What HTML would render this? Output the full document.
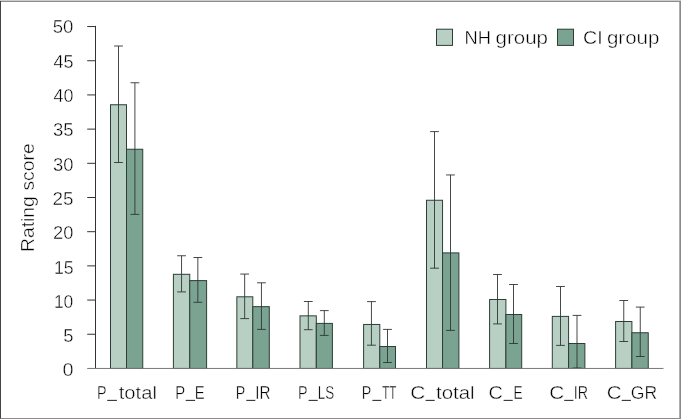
<!DOCTYPE html>
<html><head><meta charset="utf-8"><title>Rating score chart</title>
<style>
html,body{margin:0;padding:0;background:#fff;}
body{width:681px;height:419px;overflow:hidden;position:relative;font-family:"Liberation Sans",sans-serif;}
svg{opacity:0.999;will-change:transform;}
.t{font-family:"Liberation Sans",sans-serif;font-size:17.5px;fill:#000;stroke:#fff;stroke-width:0.4px;paint-order:fill stroke;}
</style></head><body>
<svg width="681" height="419" viewBox="0 0 681 419" style="position:absolute;left:0;top:0">
<rect x="0" y="0" width="681" height="419" fill="#fff"/>
<rect x="110.50" y="104.75" width="16.00" height="263.70" fill="#b8cfc3" stroke="#2e3d36" stroke-width="1"/>
<rect x="126.50" y="149.25" width="16.25" height="219.20" fill="#7aa391" stroke="#2e3d36" stroke-width="1"/>
<rect x="173.40" y="274.30" width="16.35" height="94.15" fill="#b8cfc3" stroke="#2e3d36" stroke-width="1"/>
<rect x="189.75" y="280.60" width="16.85" height="87.85" fill="#7aa391" stroke="#2e3d36" stroke-width="1"/>
<rect x="236.85" y="296.80" width="15.95" height="71.65" fill="#b8cfc3" stroke="#2e3d36" stroke-width="1"/>
<rect x="252.80" y="306.65" width="16.50" height="61.80" fill="#7aa391" stroke="#2e3d36" stroke-width="1"/>
<rect x="300.00" y="315.85" width="16.30" height="52.60" fill="#b8cfc3" stroke="#2e3d36" stroke-width="1"/>
<rect x="316.30" y="323.40" width="16.10" height="45.05" fill="#7aa391" stroke="#2e3d36" stroke-width="1"/>
<rect x="363.60" y="324.45" width="16.20" height="44.00" fill="#b8cfc3" stroke="#2e3d36" stroke-width="1"/>
<rect x="379.80" y="346.50" width="15.70" height="21.95" fill="#7aa391" stroke="#2e3d36" stroke-width="1"/>
<rect x="426.50" y="200.25" width="16.05" height="168.20" fill="#b8cfc3" stroke="#2e3d36" stroke-width="1"/>
<rect x="442.55" y="252.90" width="16.35" height="115.55" fill="#7aa391" stroke="#2e3d36" stroke-width="1"/>
<rect x="489.60" y="299.50" width="16.30" height="68.95" fill="#b8cfc3" stroke="#2e3d36" stroke-width="1"/>
<rect x="505.90" y="314.50" width="15.80" height="53.95" fill="#7aa391" stroke="#2e3d36" stroke-width="1"/>
<rect x="552.30" y="316.40" width="16.28" height="52.05" fill="#b8cfc3" stroke="#2e3d36" stroke-width="1"/>
<rect x="568.58" y="343.50" width="16.30" height="24.95" fill="#7aa391" stroke="#2e3d36" stroke-width="1"/>
<rect x="615.60" y="321.50" width="16.30" height="46.95" fill="#b8cfc3" stroke="#2e3d36" stroke-width="1"/>
<rect x="631.90" y="332.75" width="16.35" height="35.70" fill="#7aa391" stroke="#2e3d36" stroke-width="1"/>
<path d="M118.50 46.00V162.50M114.10 46.00H122.90M114.10 162.50H122.90" stroke="#2f3634" stroke-width="0.9" fill="none"/>
<path d="M134.90 82.75V214.40M130.50 82.75H139.30M130.50 214.40H139.30" stroke="#2f3634" stroke-width="0.9" fill="none"/>
<path d="M181.55 255.75V291.90M177.15 255.75H185.95M177.15 291.90H185.95" stroke="#2f3634" stroke-width="0.9" fill="none"/>
<path d="M197.85 257.50V302.30M193.45 257.50H202.25M193.45 302.30H202.25" stroke="#2f3634" stroke-width="0.9" fill="none"/>
<path d="M244.65 274.05V318.60M240.25 274.05H249.05M240.25 318.60H249.05" stroke="#2f3634" stroke-width="0.9" fill="none"/>
<path d="M261.45 282.80V329.40M257.05 282.80H265.85M257.05 329.40H265.85" stroke="#2f3634" stroke-width="0.9" fill="none"/>
<path d="M308.30 301.50V329.70M303.90 301.50H312.70M303.90 329.70H312.70" stroke="#2f3634" stroke-width="0.9" fill="none"/>
<path d="M324.30 310.60V335.40M319.90 310.60H328.70M319.90 335.40H328.70" stroke="#2f3634" stroke-width="0.9" fill="none"/>
<path d="M371.45 301.60V345.20M367.05 301.60H375.85M367.05 345.20H375.85" stroke="#2f3634" stroke-width="0.9" fill="none"/>
<path d="M387.50 329.40V362.50M383.10 329.40H391.90M383.10 362.50H391.90" stroke="#2f3634" stroke-width="0.9" fill="none"/>
<path d="M434.50 131.60V268.20M430.10 131.60H438.90M430.10 268.20H438.90" stroke="#2f3634" stroke-width="0.9" fill="none"/>
<path d="M450.50 174.95V330.40M446.10 174.95H454.90M446.10 330.40H454.90" stroke="#2f3634" stroke-width="0.9" fill="none"/>
<path d="M497.50 274.50V323.90M493.10 274.50H501.90M493.10 323.90H501.90" stroke="#2f3634" stroke-width="0.9" fill="none"/>
<path d="M513.50 284.50V343.50M509.10 284.50H517.90M509.10 343.50H517.90" stroke="#2f3634" stroke-width="0.9" fill="none"/>
<path d="M560.50 286.50V345.40M556.10 286.50H564.90M556.10 345.40H564.90" stroke="#2f3634" stroke-width="0.9" fill="none"/>
<path d="M577.00 315.40V368.00M572.60 315.40H581.40M572.60 368.00H581.40" stroke="#2f3634" stroke-width="0.9" fill="none"/>
<path d="M623.75 300.50V341.50M619.35 300.50H628.15M619.35 341.50H628.15" stroke="#2f3634" stroke-width="0.9" fill="none"/>
<path d="M640.25 307.10V356.50M635.85 307.10H644.65M635.85 356.50H644.65" stroke="#2f3634" stroke-width="0.9" fill="none"/>
<path d="M95.5 25.9V368.45" stroke="#333" stroke-width="1" fill="none"/>
<path d="M87.2 368.45H663.5" stroke="#777" stroke-width="1" fill="none"/>
<text x="62.51" y="376" textLength="11.08" lengthAdjust="spacingAndGlyphs" class="t">0</text>
<path d="M87.2 334.26H95.5" stroke="#333" stroke-width="1" fill="none"/>
<text x="63.30" y="342" textLength="10.26" lengthAdjust="spacingAndGlyphs" class="t">5</text>
<path d="M87.2 300.07H95.5" stroke="#333" stroke-width="1" fill="none"/>
<text x="53.91" y="308" textLength="19.44" lengthAdjust="spacingAndGlyphs" class="t">10</text>
<path d="M87.2 265.88H95.5" stroke="#333" stroke-width="1" fill="none"/>
<text x="53.90" y="274" textLength="19.69" lengthAdjust="spacingAndGlyphs" class="t">15</text>
<path d="M87.2 231.69H95.5" stroke="#333" stroke-width="1" fill="none"/>
<text x="53.09" y="239" textLength="20.34" lengthAdjust="spacingAndGlyphs" class="t">20</text>
<path d="M87.2 197.50H95.5" stroke="#333" stroke-width="1" fill="none"/>
<text x="52.60" y="205" textLength="20.98" lengthAdjust="spacingAndGlyphs" class="t">25</text>
<path d="M87.2 163.31H95.5" stroke="#333" stroke-width="1" fill="none"/>
<text x="52.95" y="171" textLength="20.52" lengthAdjust="spacingAndGlyphs" class="t">30</text>
<path d="M87.2 129.12H95.5" stroke="#333" stroke-width="1" fill="none"/>
<text x="52.95" y="136" textLength="20.59" lengthAdjust="spacingAndGlyphs" class="t">35</text>
<path d="M87.2 94.93H95.5" stroke="#333" stroke-width="1" fill="none"/>
<text x="53.56" y="102" textLength="19.99" lengthAdjust="spacingAndGlyphs" class="t">40</text>
<path d="M87.2 60.74H95.5" stroke="#333" stroke-width="1" fill="none"/>
<text x="53.55" y="68" textLength="20.06" lengthAdjust="spacingAndGlyphs" class="t">45</text>
<path d="M87.2 26.55H95.5" stroke="#333" stroke-width="1" fill="none"/>
<text x="52.73" y="33" textLength="20.68" lengthAdjust="spacingAndGlyphs" class="t">50</text>
<text x="96.89" y="399.2" textLength="9.50" lengthAdjust="spacingAndGlyphs" class="t">P</text>
<text x="118.67" y="399.2" textLength="38.24" lengthAdjust="spacingAndGlyphs" class="t">total</text>
<text x="175.33" y="399.2" textLength="9.93" lengthAdjust="spacingAndGlyphs" class="t">P</text>
<text x="194.73" y="399.2" textLength="9.92" lengthAdjust="spacingAndGlyphs" class="t">E</text>
<text x="235.76" y="399.2" textLength="9.48" lengthAdjust="spacingAndGlyphs" class="t">P</text>
<text x="255.19" y="399.2" textLength="15.19" lengthAdjust="spacingAndGlyphs" class="t">IR</text>
<text x="297.89" y="399.2" textLength="9.50" lengthAdjust="spacingAndGlyphs" class="t">P</text>
<text x="317.81" y="399.2" textLength="16.43" lengthAdjust="spacingAndGlyphs" class="t">LS</text>
<text x="361.87" y="399.2" textLength="9.48" lengthAdjust="spacingAndGlyphs" class="t">P</text>
<text x="382.16" y="399.2" textLength="14.15" lengthAdjust="spacingAndGlyphs" class="t">TT</text>
<text x="410.38" y="399.2" textLength="15.08" lengthAdjust="spacingAndGlyphs" class="t">C</text>
<text x="435.96" y="399.2" textLength="38.69" lengthAdjust="spacingAndGlyphs" class="t">total</text>
<text x="488.56" y="399.2" textLength="14.36" lengthAdjust="spacingAndGlyphs" class="t">C</text>
<text x="513.44" y="399.2" textLength="9.18" lengthAdjust="spacingAndGlyphs" class="t">E</text>
<text x="549.15" y="399.2" textLength="15.01" lengthAdjust="spacingAndGlyphs" class="t">C</text>
<text x="573.73" y="399.2" textLength="14.26" lengthAdjust="spacingAndGlyphs" class="t">IR</text>
<text x="606.78" y="399.2" textLength="14.81" lengthAdjust="spacingAndGlyphs" class="t">C</text>
<text x="630.89" y="399.2" textLength="26.38" lengthAdjust="spacingAndGlyphs" class="t">GR</text>
<path d="M107.20 400.4H116.90" stroke="#333" stroke-width="1.1" fill="none"/>
<path d="M185.70 400.4H195.10" stroke="#333" stroke-width="1.1" fill="none"/>
<path d="M246.30 400.4H255.30" stroke="#333" stroke-width="1.1" fill="none"/>
<path d="M308.60 400.4H317.70" stroke="#333" stroke-width="1.1" fill="none"/>
<path d="M372.40 400.4H381.30" stroke="#333" stroke-width="1.1" fill="none"/>
<path d="M425.60 400.4H434.70" stroke="#333" stroke-width="1.1" fill="none"/>
<path d="M503.60 400.4H512.70" stroke="#333" stroke-width="1.1" fill="none"/>
<path d="M564.20 400.4H573.40" stroke="#333" stroke-width="1.1" fill="none"/>
<path d="M621.70 400.4H630.90" stroke="#333" stroke-width="1.1" fill="none"/>
<text transform="translate(34.2 251.97) rotate(-90)" x="0" y="0" textLength="55.72" lengthAdjust="spacingAndGlyphs" class="t">Rating</text>
<text transform="translate(34.2 190.60) rotate(-90)" x="0" y="0" textLength="47.41" lengthAdjust="spacingAndGlyphs" class="t">score</text>
<rect x="436.5" y="29.2" width="16" height="16.2" fill="#b8cfc3" stroke="#2e3d36" stroke-width="1"/>
<rect x="557.5" y="29.2" width="16" height="16.2" fill="#7aa391" stroke="#2e3d36" stroke-width="1"/>
<text x="464.46" y="43.9" textLength="26.38" lengthAdjust="spacingAndGlyphs" class="t">NH</text>
<text x="495.58" y="43.9" textLength="52.43" lengthAdjust="spacingAndGlyphs" class="t">group</text>
<text x="583.08" y="43.9" textLength="19.60" lengthAdjust="spacingAndGlyphs" class="t">CI</text>
<text x="606.92" y="43.9" textLength="52.43" lengthAdjust="spacingAndGlyphs" class="t">group</text>
<g shape-rendering="crispEdges">
<rect x="0" y="0" width="681" height="1" fill="#cdcdcd"/>
<rect x="0" y="1" width="681" height="1" fill="#8c8a8a"/>
<rect x="679" y="2" width="1" height="416" fill="#adadad"/>
<rect x="680" y="1" width="1" height="418" fill="#8c8a8a"/>
<rect x="0" y="418" width="681" height="1" fill="#8c8a8a"/>
<rect x="0" y="1" width="1" height="417" fill="#454545"/>
<rect x="0" y="418" width="1" height="1" fill="#6a6a6a"/>
</g>
</svg>
</body></html>
